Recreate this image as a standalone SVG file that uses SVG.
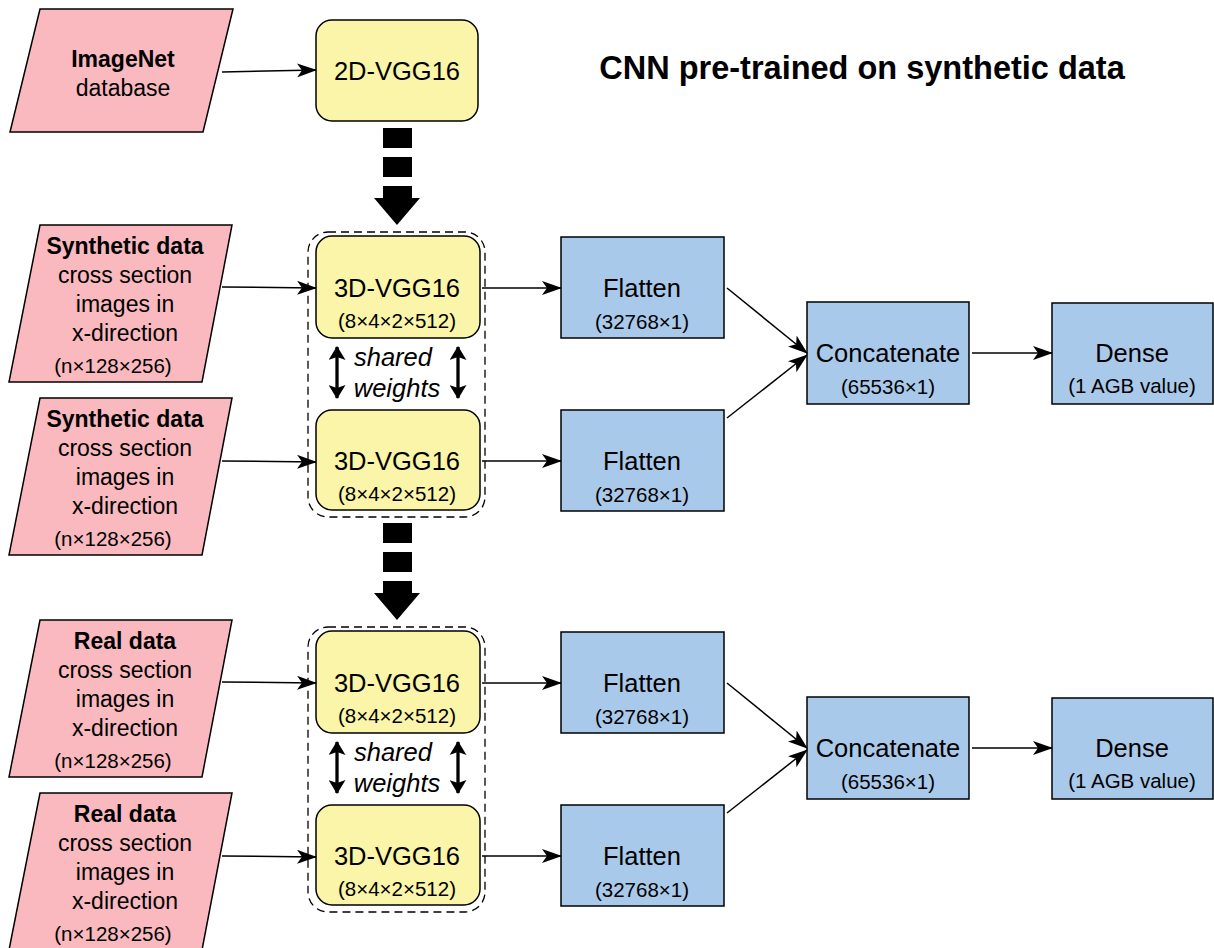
<svg xmlns="http://www.w3.org/2000/svg" width="1214" height="948" viewBox="0 0 1214 948">
<style>
.para{fill:#f9b9be;stroke:#000;stroke-width:1.5}
.vgg{fill:#faf5a8;stroke:#000;stroke-width:1.5}
.blue{fill:#a9c9ea;stroke:#000;stroke-width:1.5}
.grp{fill:none;stroke:#000;stroke-width:1.3;stroke-dasharray:8 5}
.t{font-family:"Liberation Sans",Arial,sans-serif;fill:#000;text-anchor:middle}
.big{font-size:25.5px}
.mid{font-size:23px}
.sm{font-size:20.5px}
.b{font-weight:bold}
.i{font-style:italic}
.conn{stroke:#000;stroke-width:1.5;fill:none;marker-end:url(#ah)}
.dbl{stroke:#000;stroke-width:3.3;fill:none;marker-end:url(#ah2);marker-start:url(#ah2s)}
.blk{fill:#000}
</style>
<defs>
<marker id="ah" viewBox="0 0 20 14" refX="19" refY="7" markerWidth="20" markerHeight="14" markerUnits="userSpaceOnUse" orient="auto">
<path d="M0,0 L20,7 L0,14 L5,7 z" fill="#000"/>
</marker>
<marker id="ah2" viewBox="0 0 14 17" refX="13" refY="8.5" markerWidth="14" markerHeight="17" markerUnits="userSpaceOnUse" orient="auto">
<path d="M0,0 L14,8.5 L0,17 L3,8.5 z" fill="#000"/>
</marker>
<marker id="ah2s" viewBox="0 0 14 17" refX="1" refY="8.5" markerWidth="14" markerHeight="17" markerUnits="userSpaceOnUse" orient="auto">
<path d="M14,0 L0,8.5 L14,17 L11,8.5 z" fill="#000"/>
</marker>
</defs>

<text class="t b" x="862" y="79" font-size="32.5">CNN pre-trained on synthetic data</text>

<g id="imagenet">
<polygon class="para" points="40,9 233,9 203,132 10,132"/>
<text class="t mid b" x="123" y="67">ImageNet</text>
<text class="t mid" x="123" y="96">database</text>
</g>
<g id="vgg2d">
<rect class="vgg" x="316" y="20" width="162" height="101" rx="16"/>
<text class="t big" x="397" y="80">2D-VGG16</text>
</g>

<g id="transfer1">
<rect class="blk" x="383" y="128" width="29" height="20"/>
<rect class="blk" x="383" y="157" width="29" height="20"/>
<polygon class="blk" points="383,186 412,186 412,198 420,198 397,225 374,198 383,198"/>
</g>
<g id="transfer2">
<rect class="blk" x="383" y="523" width="29" height="20"/>
<rect class="blk" x="383" y="552" width="29" height="20"/>
<polygon class="blk" points="383,581 412,581 412,593 420,593 397,620 374,593 383,593"/>
</g>

<g id="group1">
<rect class="grp" x="308" y="232" width="177" height="285" rx="20"/>
</g>
<g id="group2">
<rect class="grp" x="308" y="627" width="177" height="285" rx="20"/>
</g>

<!-- Section 1 -->
<g id="syn1">
<polygon class="para" points="40,225 232,225 202,382 9,382"/>
<text class="t mid b" x="125" y="254">Synthetic data</text>
<text class="t mid" x="125" y="283">cross section</text>
<text class="t mid" x="125" y="312">images in</text>
<text class="t mid" x="125" y="341">x-direction</text>
<text class="t sm" x="113" y="373">(n×128×256)</text>
</g>
<g id="syn2">
<polygon class="para" points="40,398 232,398 202,555 9,555"/>
<text class="t mid b" x="125" y="427">Synthetic data</text>
<text class="t mid" x="125" y="456">cross section</text>
<text class="t mid" x="125" y="485">images in</text>
<text class="t mid" x="125" y="514">x-direction</text>
<text class="t sm" x="113" y="546">(n×128×256)</text>
</g>
<g id="vgg3d1">
<rect class="vgg" x="316" y="236" width="164" height="102" rx="16"/>
<text class="t big" x="397" y="297">3D-VGG16</text>
<text class="t sm" x="397" y="328">(8×4×2×512)</text>
</g>
<g id="vgg3d2">
<rect class="vgg" x="316" y="410" width="164" height="100" rx="16"/>
<text class="t big" x="397" y="470">3D-VGG16</text>
<text class="t sm" x="397" y="501">(8×4×2×512)</text>
</g>
<g id="shared1">
<text class="t big i" x="393" y="366">shared</text>
<text class="t big i" x="397" y="397">weights</text>
</g>
<g id="flat1">
<rect class="blue" x="561" y="237" width="163" height="101"/>
<text class="t big" x="642" y="297">Flatten</text>
<text class="t sm" x="642" y="329">(32768×1)</text>
</g>
<g id="flat2">
<rect class="blue" x="561" y="410" width="163" height="101"/>
<text class="t big" x="642" y="470">Flatten</text>
<text class="t sm" x="642" y="502">(32768×1)</text>
</g>
<g id="concat1">
<rect class="blue" x="807" y="302" width="162" height="102"/>
<text class="t big" x="888" y="362">Concatenate</text>
<text class="t sm" x="888" y="394">(65536×1)</text>
</g>
<g id="dense1">
<rect class="blue" x="1052" y="303" width="161" height="101"/>
<text class="t big" x="1132" y="362">Dense</text>
<text class="t sm" x="1132" y="393">(1 AGB value)</text>
</g>

<!-- Section 2 -->
<g id="real1">
<polygon class="para" points="40,620 232,620 202,777 9,777"/>
<text class="t mid b" x="125" y="649">Real data</text>
<text class="t mid" x="125" y="678">cross section</text>
<text class="t mid" x="125" y="707">images in</text>
<text class="t mid" x="125" y="736">x-direction</text>
<text class="t sm" x="113" y="768">(n×128×256)</text>
</g>
<g id="real2">
<polygon class="para" points="40,793 232,793 202,950 9,950"/>
<text class="t mid b" x="125" y="822">Real data</text>
<text class="t mid" x="125" y="851">cross section</text>
<text class="t mid" x="125" y="880">images in</text>
<text class="t mid" x="125" y="909">x-direction</text>
<text class="t sm" x="113" y="941">(n×128×256)</text>
</g>
<g id="vgg3d3">
<rect class="vgg" x="316" y="631" width="164" height="102" rx="16"/>
<text class="t big" x="397" y="692">3D-VGG16</text>
<text class="t sm" x="397" y="723">(8×4×2×512)</text>
</g>
<g id="vgg3d4">
<rect class="vgg" x="316" y="805" width="164" height="100" rx="16"/>
<text class="t big" x="397" y="865">3D-VGG16</text>
<text class="t sm" x="397" y="896">(8×4×2×512)</text>
</g>
<g id="shared2">
<text class="t big i" x="393" y="761">shared</text>
<text class="t big i" x="397" y="792">weights</text>
</g>
<g id="flat3">
<rect class="blue" x="561" y="632" width="163" height="101"/>
<text class="t big" x="642" y="692">Flatten</text>
<text class="t sm" x="642" y="724">(32768×1)</text>
</g>
<g id="flat4">
<rect class="blue" x="561" y="805" width="163" height="101"/>
<text class="t big" x="642" y="865">Flatten</text>
<text class="t sm" x="642" y="897">(32768×1)</text>
</g>
<g id="concat2">
<rect class="blue" x="807" y="697" width="162" height="102"/>
<text class="t big" x="888" y="757">Concatenate</text>
<text class="t sm" x="888" y="789">(65536×1)</text>
</g>
<g id="dense2">
<rect class="blue" x="1052" y="698" width="161" height="101"/>
<text class="t big" x="1132" y="757">Dense</text>
<text class="t sm" x="1132" y="788">(1 AGB value)</text>
</g>

<g id="connectors">
<line class="conn" x1="222" y1="72" x2="316" y2="70"/>
<line class="conn" x1="222" y1="287" x2="316" y2="288"/>
<line class="conn" x1="222" y1="461" x2="316" y2="462"/>
<line class="conn" x1="482" y1="288" x2="561" y2="288"/>
<line class="conn" x1="482" y1="461" x2="561" y2="461"/>
<line class="conn" x1="727" y1="288" x2="807" y2="353"/>
<line class="conn" x1="727" y1="418" x2="807" y2="355"/>
<line class="conn" x1="972" y1="353" x2="1052" y2="353"/>
<line class="dbl" x1="337" y1="347" x2="337" y2="398"/>
<line class="dbl" x1="458" y1="347" x2="458" y2="398"/>

<line class="conn" x1="222" y1="682" x2="316" y2="683"/>
<line class="conn" x1="222" y1="856" x2="316" y2="857"/>
<line class="conn" x1="482" y1="683" x2="561" y2="683"/>
<line class="conn" x1="482" y1="856" x2="561" y2="856"/>
<line class="conn" x1="727" y1="683" x2="807" y2="748"/>
<line class="conn" x1="727" y1="813" x2="807" y2="750"/>
<line class="conn" x1="972" y1="748" x2="1052" y2="748"/>
<line class="dbl" x1="337" y1="742" x2="337" y2="793"/>
<line class="dbl" x1="458" y1="742" x2="458" y2="793"/>
</g>
</svg>
